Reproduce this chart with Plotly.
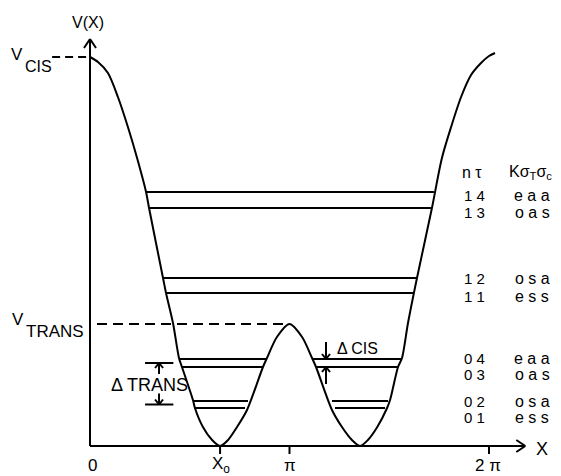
import plotly.graph_objects as go

# Torsional potential V(X): X in units of pi, energy in arbitrary units above the well bottom
curve_x = [0.0, 0.040, 0.090, 0.140, 0.190, 0.236, 0.281, 0.296, 0.366, 0.381, 0.416,
           0.446, 0.461, 0.516, 0.526, 0.566, 0.612, 0.652, 0.692, 0.737, 0.787,
           0.867, 0.887, 0.937, 1.000, 1.063, 1.113, 1.133, 1.213, 1.263, 1.313,
           1.353, 1.393, 1.440, 1.489, 1.504, 1.544, 1.564, 1.594, 1.639, 1.714,
           1.764, 1.810, 1.860, 1.910, 1.960, 2.000, 2.030]
curve_v = [389, 384, 373, 349, 319, 288, 254, 238, 168, 153, 123,
           88, 79, 46, 38, 19, 6, 0, 6, 19, 36,
           79, 88, 109, 122, 109, 88, 79, 36, 19, 6,
           0, 6, 19, 38, 46, 79, 88, 123, 168, 238,
           288, 319, 349, 371, 383, 390, 393]

# Levels above the barrier (one line spanning both wells)
upper_tau = ["1 4", "1 3", "1 2", "1 1"]
upper_sym = ["e a a", "o a s", "o s a", "e s s"]
upper_E = [254, 238, 168, 153]
upper_x0 = [0.281, 0.296, 0.366, 0.381]
upper_x1 = [1.724, 1.709, 1.639, 1.624]

# Levels below the barrier (split into the trans wells)
lower_tau = ["0 4", "0 3", "0 2", "0 1"]
lower_sym = ["e a a", "o a s", "o s a", "e s s"]
lower_E = [87, 79, 45, 38]
lower_left_x0 = [0.446, 0.461, 0.516, 0.526]
lower_left_x1 = [0.887, 0.867, 0.792, 0.777]
lower_right_x0 = [1.118, 1.138, 1.213, 1.228]
lower_right_x1 = [1.559, 1.544, 1.494, 1.479]

tick_labels = ["0", "X<sub>o</sub>", "π", "2 π"]

V_CIS = curve_v[0]
V_TRANS = max(v for x, v in zip(curve_x, curve_v) if 0.8 < x < 1.2)
i_min = curve_v.index(min(curve_v))
X0 = curve_x[i_min]

W, H = 561, 476
PX_PER_PI = 199.5          # horizontal pixels per pi
FONT = "Liberation Sans"
INK = "black"

fig = go.Figure()

# potential curve
fig.add_trace(go.Scatter(x=curve_x, y=curve_v, mode="lines",
                         line=dict(color=INK, width=2, shape="spline", smoothing=0.8),
                         hoverinfo="skip"))

# energy levels
lx, ly = [], []
for e, a, b in zip(upper_E, upper_x0, upper_x1):
    lx += [a, b, None]
    ly += [e, e, None]
for e, a, b, c, d in zip(lower_E, lower_left_x0, lower_left_x1, lower_right_x0, lower_right_x1):
    lx += [a, b, None, c, d, None]
    ly += [e, e, None, e, e, None]
fig.add_trace(go.Scatter(x=lx, y=ly, mode="lines", line=dict(color=INK, width=1.8),
                         hoverinfo="skip"))

# arrows (stems + chevron heads) built in screen-pixel units
ax_x, ax_y = [], []


def chevron(xt, yt, dx, dy, length, spread):
    """Open arrowhead with its tip at (xt, yt) pointing along (dx, dy) in pixels (y up)."""
    px, py = -dy, dx
    for s in (1, -1):
        ax_x.extend([xt + (-dx * length + s * px * spread) / PX_PER_PI, xt, None])
        ax_y.extend([yt + (-dy * length + s * py * spread), yt, None])


def stem(x, y0, y1):
    ax_x.extend([x, x, None])
    ax_y.extend([y0, y1, None])


# axis arrowheads
chevron(0, 407, 0, 1, 9, 6)
chevron(2.182, 0, 1, 0, 9, 6)

# Delta TRANS markers between the level pairs
top_pair = (lower_E[0] + lower_E[1]) / 2
bot_pair = (lower_E[2] + lower_E[3]) / 2
stem(0.346, top_pair, top_pair - 11)
chevron(0.346, top_pair, 0, 1, 5, 4)
stem(0.346, bot_pair, bot_pair + 11)
chevron(0.346, bot_pair, 0, -1, 5, 4)

# Delta CIS arrows pointing onto the upper trans pair
stem(1.183, lower_E[0], lower_E[0] + 17)
chevron(1.183, lower_E[0], 0, -1, 5, 4)
stem(1.183, lower_E[1], lower_E[1] - 17)
chevron(1.183, lower_E[1], 0, 1, 5, 4)

fig.add_trace(go.Scatter(x=ax_x, y=ax_y, mode="lines", line=dict(color=INK, width=2),
                         hoverinfo="skip"))

shapes = []
# dashed reference energies
shapes.append(dict(type="line", x0=-0.19, x1=-0.01, y0=V_CIS, y1=V_CIS,
                   line=dict(color=INK, width=2, dash="8px,5px")))
shapes.append(dict(type="line", x0=0.035, x1=1.0, y0=V_TRANS, y1=V_TRANS,
                   line=dict(color=INK, width=2, dash="10px,6px")))
# axes
shapes.append(dict(type="line", x0=0, x1=0, y0=0, y1=406, line=dict(color=INK, width=2)))
shapes.append(dict(type="line", x0=0, x1=2.178, y0=0, y1=0, line=dict(color=INK, width=2)))
# tick marks
for tx in [X0, 1.0, 2.0]:
    shapes.append(dict(type="line", x0=tx, x1=tx, y0=0, y1=-8, line=dict(color=INK, width=2)))
for e in [top_pair, bot_pair]:
    shapes.append(dict(type="line", x0=0.276, x1=0.418, y0=e, y1=e, line=dict(color=INK, width=2)))

annotations = []


def label(px, py, text, size=15, xanchor="center"):
    annotations.append(dict(x=px / W, y=1 - py / H, xref="paper", yref="paper", text=text,
                            showarrow=False, xanchor=xanchor, yanchor="middle",
                            font=dict(family=FONT, size=size, color=INK)))


# text
label(88, 22, "V(X)", 16)
label(17, 54, "V", 17)
label(38, 67, "CIS", 16)
label(18, 319, "V", 17)
label(55, 331, "TRANS", 17)
label(149, 385, "Δ TRANS", 18)
label(357, 348, "Δ CIS", 16)
label(542, 449, "X", 18)

# x tick labels
tick_px = [92, 221, 290, 488]
for px, t in zip(tick_px, tick_labels):
    label(px, 465, t, 17)

# quantum number table
label(472, 172, "n τ", 16)
label(507, 172, "Kσ<sub>T</sub>σ<sub>c</sub>", 16, xanchor="left")
row_py = [195, 212, 278, 296, 358, 374, 401, 417]
for py, t, s in zip(row_py, upper_tau + lower_tau, upper_sym + lower_sym):
    label(474, py, t, 15)
    label(532, py, s, 16)

fig.update_layout(
    width=W, height=H, margin=dict(l=0, r=0, t=0, b=0),
    paper_bgcolor="white", plot_bgcolor="white", showlegend=False,
    xaxis=dict(range=[-90 / PX_PER_PI, (W - 90) / PX_PER_PI], visible=False, fixedrange=True),
    yaxis=dict(range=[-30, 446], visible=False, fixedrange=True),
    shapes=shapes, annotations=annotations,
)

fig.write_html("out.html")
